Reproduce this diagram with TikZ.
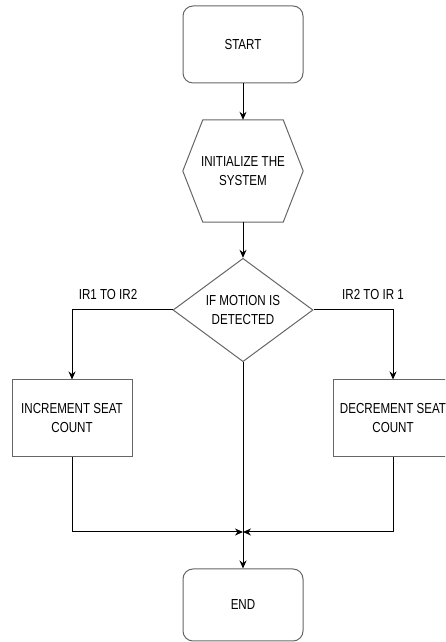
\documentclass[tikz,border=0pt]{standalone}
\usepackage{fontspec}
\setmainfont[FakeStretch=0.8]{Liberation Sans}
\usetikzlibrary{shapes.geometric, arrows.meta}

\definecolor{edgegray}{HTML}{666666}
\newcommand{\flowfont}{\fontsize{14.5}{19}\selectfont}

\begin{document}
\begin{tikzpicture}[x=1pt, y=1pt]

\tikzset{termbox/.style={draw=edgegray, line width=1pt, rectangle, rounded corners=10pt, minimum width=120pt, minimum height=77pt, font=\flowfont}}
\tikzset{procbox/.style={draw=edgegray, line width=1pt, rectangle, minimum width=120pt, minimum height=77pt, align=center, font=\flowfont}}
\tikzset{hexbox/.style={rectangle, minimum width=120pt, minimum height=102pt, align=center, font=\flowfont}}
\tikzset{decision/.style={draw=edgegray, line width=1pt, diamond, minimum width=140pt, minimum height=98pt, inner sep=0pt, align=center, font=\flowfont}}
\tikzset{flowline/.style={-{Stealth[length=8pt, width=7pt]}, line width=1pt}}

% page frame, the right box runs off it
\clip (0, 0) rectangle (445, 642);

% start, init, decision, end
\node[termbox] at (243, 597.5) (start) {START};
\node[hexbox] at (243, 471) (init) {INITIALIZE THE\\SYSTEM};
\draw[draw=edgegray, line width=1pt]
  ([xshift=20pt]init.north west) -- ([xshift=-20pt]init.north east) -- (init.east)
  -- ([xshift=-20pt]init.south east) -- ([xshift=20pt]init.south west) -- (init.west) -- cycle;
\node[decision] at (243, 332) (motion) {IF MOTION IS\\DETECTED};
\node[termbox, minimum height=72pt] at (243, 37) (end) {END};

% seat counters
\node[procbox] at ( 72, 223.5) (inc) {INCREMENT SEAT\\COUNT};
\node[procbox] at (393, 223.5) (dec) {DECREMENT SEAT\\COUNT};

% branch labels
\node[font=\flowfont] at (108, 347) (irleft) {IR1 TO IR2};
\node[font=\flowfont] at (373, 347) (irright) {IR2 TO IR 1};

% where the counters meet again
\coordinate (join) at (243, 110);

% interactions
\draw[flowline] (start) -- (init);
\draw[flowline] (init) -- (motion);
\draw[flowline] (motion.west) -| (inc.north);
\draw[flowline] (motion.east) -| (dec.north);
\draw[flowline] (motion.south) -- (end.north);
\draw[flowline] (inc.south) |- (join);
\draw[flowline] (dec.south) |- (join);

\end{tikzpicture}
\end{document}
